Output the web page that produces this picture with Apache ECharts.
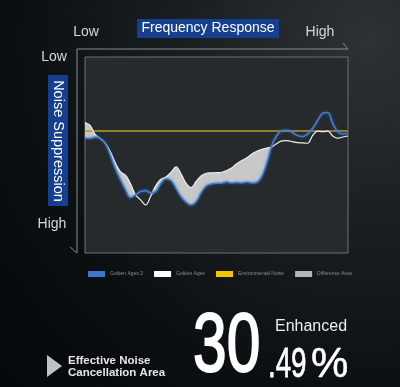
<!DOCTYPE html>
<html>
<head>
<meta charset="utf-8">
<script src="https://cdn.jsdelivr.net/npm/echarts@6/dist/echarts.min.js"></script>
<style>
  html, body { margin: 0; padding: 0; }
  body {
    width: 400px; height: 387px; overflow: hidden;
    background: radial-gradient(circle at 370px 40px, #2c3235 0%, #1a1f22 35%, #0b0f11 70%, #05080a 100%);
  }
  #chart { width: 400px; height: 387px; }
</style>
</head>
<body>
<div id="chart"></div>
<script>
// 噪声抑制曲线，值越大表示抑制越强（y 轴倒置：上 Low / 下 High）
const goldenAges2 = [
  41.3, 41.5, 40.9, 41.5, 44.1, 50.0, 56.9, 62.5, 67.6, 71.7,
  70.4, 68.6, 68.2, 69.3, 68.6, 64.5, 62.1, 63.0, 67.0, 71.3,
  74.0, 75.5, 73.7, 69.1, 65.8, 64.8, 64.4, 64.4, 63.7, 64.3,
  64.0, 64.3, 63.8, 64.3, 63.9, 60.7, 53.6, 44.6, 39.8, 37.5,
  37.4, 38.5, 40.1, 40.6, 39.3, 36.5, 32.4, 28.8, 28.3, 33.9,
  38.2, 39.3, 38.9
]
const goldenAges = [
  33.4, 34.9, 39.5, 41.6, 43.9, 48.2, 54.1, 58.5, 60.3, 64.7,
  70.4, 72.9, 75.5, 70.9, 65.6, 62.4, 61.2, 58.9, 56.0, 59.7,
  64.5, 66.6, 63.4, 60.6, 59.3, 59.1, 59.0, 58.8, 57.9, 56.6,
  54.5, 52.8, 51.4, 49.5, 48.1, 47.1, 46.4, 45.8, 44.0, 42.8,
  42.7, 43.2, 43.7, 43.8, 44.0, 40.1, 37.8, 38.1, 37.8, 40.3,
  41.4, 40.8, 40.3
]
const envNoiseLevel = 37.8
const legendNames = ['Golden Ages 2', 'Golden Ages', 'Environmental Noise', 'Difference Area']

const categories = goldenAges.map((_, i) => i)
const envNoise = categories.map(() => envNoiseLevel)
// 差异区：Golden Ages 2 比 Golden Ages 抑制得更深的部分
const diffArea = goldenAges2.map((v, i) => Math.max(0, v - goldenAges[i]))

const chart = echarts.init(document.getElementById('chart'), null, { renderer: 'canvas' })

const FONT = 'Arial, "Liberation Sans", sans-serif'

const graphic = [
  // 外框 L 形坐标线（带箭头斜杠）
  {
    type: 'polyline', silent: true,
    shape: { points: [[70, 247], [77, 253], [77, 49], [348, 49], [343, 43]] },
    style: { stroke: '#8a8d90', lineWidth: 1, fill: null }
  },
  { type: 'text', x: 86, y: 32, style: { text: 'Low', font: '14px ' + FONT, fill: '#d6d8d9', align: 'center', verticalAlign: 'middle' } },
  { type: 'text', x: 320, y: 32, style: { text: 'High', font: '14px ' + FONT, fill: '#d6d8d9', align: 'center', verticalAlign: 'middle' } },
  { type: 'rect', shape: { x: 137, y: 19, width: 142, height: 19 }, style: { fill: '#16408f' } },
  { type: 'text', x: 208, y: 28.5, style: { text: 'Frequency Response', font: '14px ' + FONT, fill: '#ffffff', align: 'center', verticalAlign: 'middle' } },
  { type: 'text', x: 54, y: 57, style: { text: 'Low', font: '14px ' + FONT, fill: '#d6d8d9', align: 'center', verticalAlign: 'middle' } },
  { type: 'text', x: 52, y: 224, style: { text: 'High', font: '14px ' + FONT, fill: '#d6d8d9', align: 'center', verticalAlign: 'middle' } },
  { type: 'rect', shape: { x: 48, y: 75, width: 20, height: 131 }, style: { fill: '#16408f' } },
  {
    type: 'text', x: 58, y: 141, rotation: -Math.PI / 2,
    style: { text: 'Noise Suppression', font: '14.5px ' + FONT, fill: '#ffffff', align: 'center', verticalAlign: 'middle' }
  },
  // 底部说明
  { type: 'polygon', shape: { points: [[47, 355], [62, 366], [47, 377]] }, style: { fill: '#bfc1c2' } },
  { type: 'text', x: 68, y: 361, style: { text: 'Effective Noise', font: 'bold 11.5px ' + FONT, fill: '#e4e5e6', align: 'left', verticalAlign: 'middle' } },
  { type: 'text', x: 68, y: 373, style: { text: 'Cancellation Area', font: 'bold 11.5px ' + FONT, fill: '#e4e5e6', align: 'left', verticalAlign: 'middle' } },
  { type: 'text', x: 193, y: 348, scaleX: 0.72, style: { text: '30', font: '84px ' + FONT, fill: '#ffffff', stroke: '#ffffff', lineWidth: 2, align: 'left', verticalAlign: 'middle' } },
  { type: 'text', x: 268, y: 365, scaleX: 0.66, style: { text: '.49', font: '42px ' + FONT, fill: '#ffffff', stroke: '#ffffff', lineWidth: 0.8, align: 'left', verticalAlign: 'middle' } },
  { type: 'text', x: 311, y: 365, style: { text: '%', font: '42px ' + FONT, fill: '#ffffff', stroke: '#ffffff', lineWidth: 0.5, align: 'left', verticalAlign: 'middle' } },
  { type: 'text', x: 311, y: 327, style: { text: 'Enhanced', font: '16px ' + FONT, fill: '#eeeeee', align: 'center', verticalAlign: 'middle' } }
]

const option = {
  animation: false,
  backgroundColor: 'transparent',
  grid: {
    left: 85, right: 52, top: 57, bottom: 134,
    show: true,
    backgroundColor: '#272a2c',
    borderColor: '#6e7173',
    borderWidth: 1
  },
  xAxis: {
    type: 'category',
    data: categories,
    boundaryGap: false,
    show: false
  },
  yAxis: {
    type: 'value',
    min: 0, max: 100,
    inverse: true,
    show: false
  },
  legend: {
    left: 88, top: 271, padding: 0,
    itemWidth: 17, itemHeight: 6, itemGap: 11,
    icon: 'rect',
    textStyle: { fontSize: 5, color: '#8b8d8f', fontFamily: FONT },
    data: [
      { name: legendNames[0], itemStyle: { color: '#3b78c8' } },
      { name: legendNames[1], itemStyle: { color: '#ffffff' } },
      { name: legendNames[2], itemStyle: { color: '#f4c400' } },
      { name: legendNames[3], itemStyle: { color: '#b4b4b4' } }
    ]
  },
  graphic,
  series: [
    {
      name: 'base', type: 'line', stack: 'diff', data: goldenAges,
      smooth: 0.4, showSymbol: false, silent: true,
      lineStyle: { opacity: 0 }, z: 1
    },
    {
      name: legendNames[3], type: 'line', stack: 'diff', data: diffArea,
      smooth: 0.4, showSymbol: false, silent: true,
      itemStyle: { color: '#b4b4b4' },
      lineStyle: { width: 0, opacity: 0 },
      areaStyle: { color: '#c8c8c8', opacity: 1 }, z: 1
    },
    {
      name: legendNames[2], type: 'line', data: envNoise,
      showSymbol: false, silent: true,
      itemStyle: { color: '#f4c400' },
      lineStyle: { color: '#b89a2c', width: 1.5 }, z: 2
    },
    {
      name: legendNames[1], type: 'line', data: goldenAges,
      smooth: 0.4, showSymbol: false, silent: true,
      itemStyle: { color: '#ffffff' },
      lineStyle: { color: '#eeeeee', width: 1.2 }, z: 3
    },
    {
      name: legendNames[0], type: 'line', data: goldenAges2,
      smooth: 0.4, showSymbol: false, silent: true,
      itemStyle: { color: '#3b78c8' },
      lineStyle: { color: '#3f7ed0', width: 1.6, shadowBlur: 3, shadowColor: 'rgba(60,120,210,0.6)' }, z: 4
    }
  ]
}

chart.setOption(option)
</script>
</body>
</html>
